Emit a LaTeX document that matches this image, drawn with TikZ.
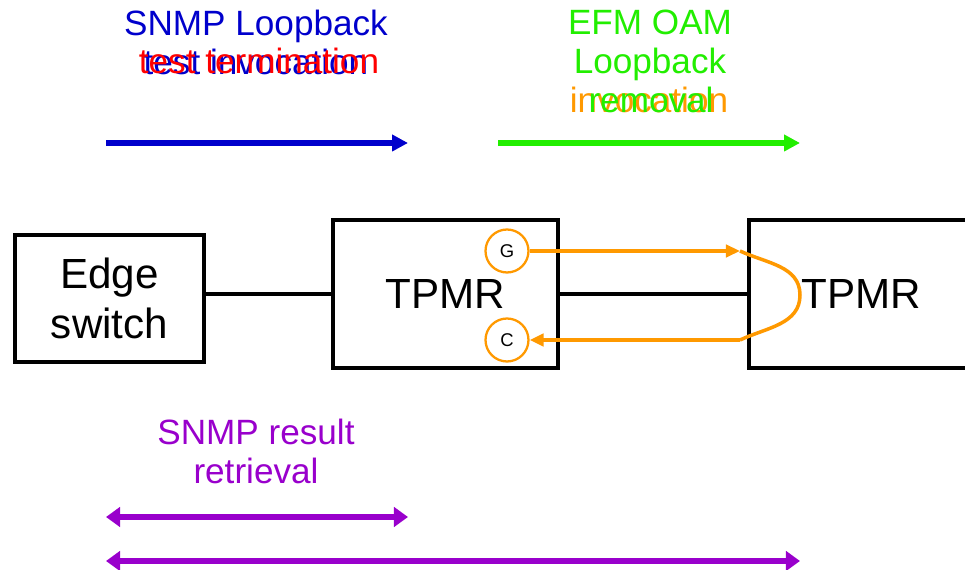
\documentclass[tikz,border=0pt]{standalone}
\usepackage{fontspec}
\setmainfont{Liberation Sans}
\usetikzlibrary{positioning,arrows.meta}
\usepackage{xcolor}
\definecolor{SNMPBlue}{RGB}{0,0,204}
\definecolor{TermRed}{RGB}{255,0,0}
\definecolor{OAMGreen}{RGB}{34,238,0}
\definecolor{LoopOrange}{RGB}{255,153,0}
\definecolor{ResultPurple}{RGB}{153,0,204}

\begin{document}
\begin{tikzpicture}[x=0.02cm,y=-0.02cm,
box/.style={rectangle,draw=black,line width=2.6pt,align=center,inner sep=0pt,
font=\fontsize{24}{28.5}\selectfont},
port/.style={circle,draw=LoopOrange,line width=1.3pt,minimum size=0.86cm,inner sep=0pt,
font=\fontsize{10.5}{12}\selectfont},
label/.style={align=center,inner sep=0pt,font=\fontsize{20}{22.2}\selectfont},
link/.style={line width=2.2pt,draw=black},
bigarrow/.style={-{Triangle[length=9pt,width=9pt]},line width=3.2pt},
twoway/.style={{Triangle[length=8pt,width=11pt]}-{Triangle[length=8pt,width=11pt]},line width=3pt,draw=ResultPurple},
loop/.style={line width=2pt,draw=LoopOrange},
looparrow/.style={-{Triangle[length=8pt,width=7pt]},line width=2pt,draw=LoopOrange}
]
\clip (0,0) rectangle (965,570);
\fill[white] (0,0) rectangle (965,570);

\node[box,minimum width=3.78cm,minimum height=2.54cm] (edge) at (109.5,298.5) {Edge\\switch};
\node[box,minimum width=4.5cm,minimum height=2.96cm] (tpmrA) at (445.5,294) {TPMR};
\node[box,minimum width=4.5cm,minimum height=2.96cm] (tpmrB) at (861.5,294) {TPMR};
\draw[link] (edge.east |- tpmrA.west) -- (tpmrA.west);
\draw[link] (tpmrA.east) -- (tpmrA.east -| tpmrB.west);

\node[port] (gen) at (507,251) {G};
\node[port] (chk) at (507,340) {C};
\coordinate (loopIn) at (740,251);
\coordinate (loopOut) at (740,340);
\draw[looparrow] (gen) -- (loopIn);
\draw[loop] (loopIn) to[out=-25,in=90] (800,295) to[out=-90,in=25] (loopOut);
\draw[looparrow] (loopOut) -- (chk);

\node[label,text=SNMPBlue] (snmpTop) at (256,42) {SNMP Loopback\\test invocation};
\node[label,text=TermRed] (snmpEnd) at (259,61) {test termination};
\node[label,text=OAMGreen] (oamTop) at (650,61) {EFM OAM\\Loopback\\\phantom{x}};
\node[label,text=LoopOrange] (oamInv) at (649,100) {invocation};
\node[label,text=OAMGreen] (oamRem) at (651,100) {removal};
\node[label,text=ResultPurple] (result) at (256,451) {SNMP result\\retrieval};

\coordinate (snmpL) at (106,143);
\coordinate (snmpR) at (408,143);
\coordinate (oamL) at (498,143);
\coordinate (oamR) at (800,143);
\draw[bigarrow,draw=SNMPBlue] (snmpL) -- (snmpR);
\draw[bigarrow,draw=OAMGreen] (oamL) -- (oamR);

\coordinate (resA) at (106,517);
\coordinate (resB) at (408,517);
\coordinate (allA) at (106,561);
\coordinate (allB) at (800,561);
\draw[twoway] (resA) -- (resB);
\draw[twoway] (allA) -- (allB);
\end{tikzpicture}
\end{document}
